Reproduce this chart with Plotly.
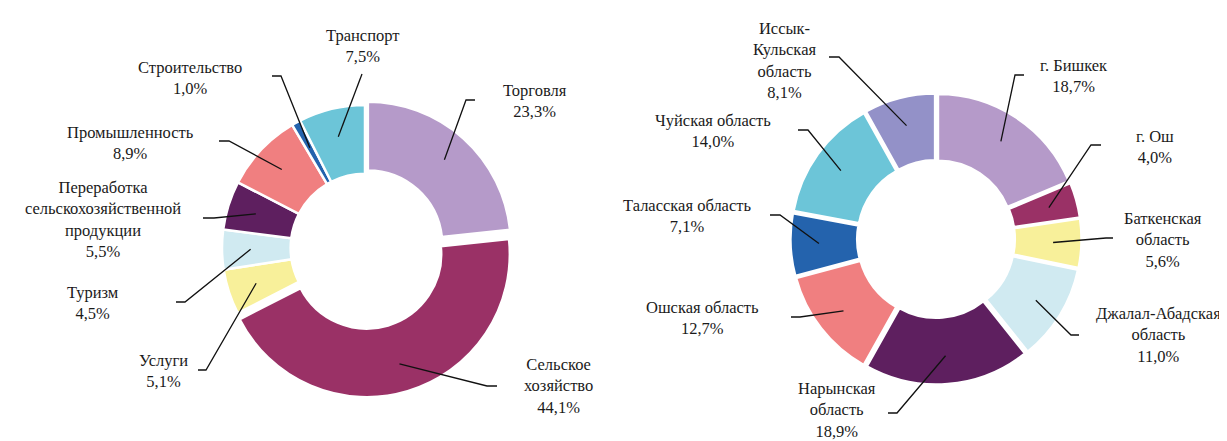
import math
import plotly.graph_objects as go

W, H = 1227, 441

# left donut: отрасли
sectors = ["Торговля", "Сельское<br>хозяйство", "Услуги", "Туризм",
           "Переработка<br>сельскохозяйственной<br>продукции",
           "Промышленность", "Строительство", "Транспорт"]
sector_share = [23.3, 44.1, 5.1, 4.5, 5.5, 8.9, 1.0, 7.5]
sector_colors = ["#B59AC9", "#9A3166", "#F8F09A", "#D0EAF1", "#5E1F5F",
                 "#F07F80", "#2463AD", "#6CC5D8"]
sector_pull = [0.03, 0.045, 0, 0, 0, 0, 0, 0]

# right donut: регионы
regions = ["г. Бишкек", "г. Ош", "Баткенская<br>область",
           "Джалал-Абадская<br>область", "Нарынская<br>область",
           "Ошская область", "Таласская область", "Чуйская область",
           "Иссык-<br>Кульская<br>область"]
region_share = [18.7, 4.0, 5.6, 11.0, 18.9, 12.7, 7.1, 14.0, 8.1]
region_colors = ["#B59AC9", "#9A3166", "#F8F09A", "#D0EAF1", "#5E1F5F",
                 "#F07F80", "#2463AD", "#6CC5D8", "#9391C8"]
region_pull = [0.025] * 9

# layout in pixels: pie centre, radius
LEFT = dict(cx=357, cy=240, r=143, hole=0.52)
RIGHT = dict(cx=928, cy=231, r=142, hole=0.53)

# label centre (px) and leader elbow / tick end (px)
left_label_pos = [(527, 93), (550, 378), (155, 363), (85, 295), (95, 211),
                  (122, 135), (182, 70), (355, 38)]
left_elbow = [((458, 92), (467, 92)), ((479, 378), (489, 378)),
              ((198, 362), (190, 362)), ((177, 294), (168, 294)),
              ((206, 210), (195, 210)), ((221, 133), (211, 133)),
              ((273, 68), (264, 68)), ((354, 66), (354, 66))]
right_label_pos = [(1066, 68), (1147, 139), (1155, 232), (1150, 327),
                   (829, 402), (694, 310), (679, 208), (705, 123), (776, 52)]
right_elbow = [((1007, 67), (1016, 67)), ((1083, 137), (1093, 137)),
               ((1098, 230), (1105, 230)), ((1063, 327), (1071, 327)),
               ((889, 405), (880, 405)), ((792, 309), (783, 309)),
               ((772, 207), (762, 207)), ((800, 122), (790, 122)),
               ((831, 49), (821, 49))]

FONT = dict(family="Times New Roman, Liberation Serif, serif",
            size=16.5, color="#1a1a1a")


def px(x, y):
    return x / W, 1 - y / H


def domain(g, pull):
    R = g["r"] * (1 + max(pull))
    return dict(x=[(g["cx"] - R) / W, (g["cx"] + R) / W],
                y=[1 - (g["cy"] + R) / H, 1 - (g["cy"] - R) / H])


def fmt(v):
    return ("%.1f%%" % v).replace(".", ",")


fig = go.Figure()
shapes = []
annotations = []


def add_donut(labels, values, colors, pull, g, label_pos, elbows):
    fig.add_trace(go.Pie(
        labels=labels, values=values, sort=False, direction="clockwise",
        rotation=0, hole=g["hole"], pull=pull, textinfo="none",
        marker=dict(colors=colors, line=dict(color="white", width=2.5)),
        domain=domain(g, pull), showlegend=False))
    total = sum(values)
    cum = 0
    for lab, v, p, pos, (elb, end) in zip(labels, values, pull, label_pos, elbows):
        mid = (cum + v / 2) / total * 2 * math.pi
        cum += v
        rr = g["r"] * (0.8 + p)
        ax = g["cx"] + rr * math.sin(mid)
        ay = g["cy"] - rr * math.cos(mid)
        x0, y0 = px(ax, ay)
        x1, y1 = px(*elb)
        x2, y2 = px(*end)
        shapes.append(dict(type="path", xref="paper", yref="paper",
                           path="M %f %f L %f %f L %f %f" % (x0, y0, x1, y1, x2, y2),
                           line=dict(color="#111", width=1.3)))
        tx, ty = px(*pos)
        annotations.append(dict(text=lab + "<br>" + fmt(v), x=tx, y=ty,
                                xref="paper", yref="paper", showarrow=False,
                                xanchor="center", yanchor="middle", align="center",
                                font=FONT))


add_donut(sectors, sector_share, sector_colors, sector_pull, LEFT,
          left_label_pos, left_elbow)
add_donut(regions, region_share, region_colors, region_pull, RIGHT,
          right_label_pos, right_elbow)

fig.update_layout(width=W, height=H, margin=dict(l=0, r=0, t=0, b=0),
                  paper_bgcolor="white", plot_bgcolor="white",
                  shapes=shapes, annotations=annotations)
fig.write_html("out.html")
